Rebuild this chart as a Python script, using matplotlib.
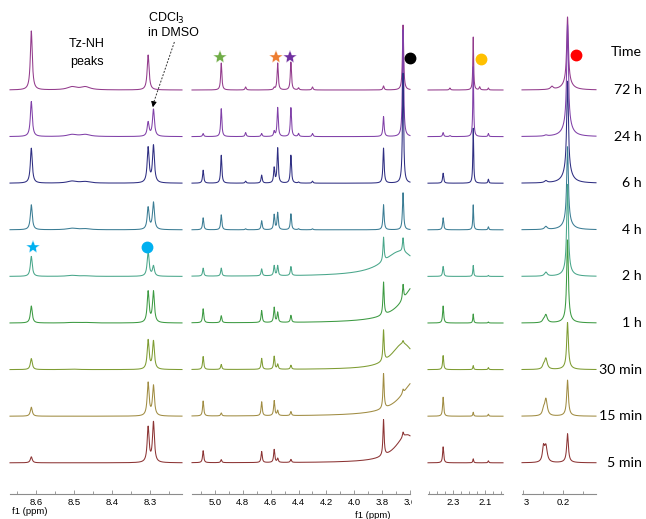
import numpy as np
import matplotlib
matplotlib.use('Agg')
import matplotlib.pyplot as plt
from matplotlib.transforms import Bbox, TransformedBbox

# traces, top to bottom
times = ['72 h', '24 h', '6 h', '4 h', '2 h', '1 h', '30 min', '15 min', '5 min']
line_colors = ['#933b8c', '#8040a8', '#2e2e82', '#3a7c94', '#48a68a',
               '#3c9a42', '#7e9c32', '#a08c42', '#8c3434']

# panel 1: Tz-NH region (ppm, half width, height of each peak per trace)
p1_ppm = [8.612, 8.305, 8.291, 8.505, 8.47]
p1_width = [0.003, 0.003, 0.003, 0.015, 0.015]
p1_height = [
    [59, 35, 0, 3, 3],
    [35, 14, 27, 2, 2],
    [35, 35, 37, 2, 1.5],
    [25, 22, 27, 1.5, 1],
    [20, 25, 10, 1, 0.5],
    [17, 31, 31, 0.5, 0.5],
    [11, 29, 28, 0.5, 0],
    [9, 33, 30, 0, 0],
    [6, 35, 40, 0, 0],
]

# panel 2: 5.1 - 3.6 ppm
p2_ppm = [5.085, 4.955, 4.78, 4.665, 4.575, 4.55, 4.455, 4.40, 4.30, 3.79, 3.65]
p2_width = [0.005] * 11
p2_height = [
    [0, 27, 3, 0, 2, 27, 28, 2, 3, 4, 65],
    [3, 28, 4, 3, 5, 29, 29, 3, 3, 20, 107],
    [13, 28, 2, 8, 15, 35, 28, 1, 2, 35, 110],
    [12, 15, 1, 9, 15, 17, 16, 1, 1, 25, 37],
    [8, 8, 0, 7, 10, 10, 9, 0, 0, 24, 14],
    [14, 7, 0, 12, 15, 10, 7, 0, 0, 33, 15],
    [13, 5, 0, 11, 13, 5, 4, 0, 0, 31, 3],
    [15, 3, 0, 14, 15, 5, 4, 0, 0, 35, 4],
    [12, 3, 0, 11, 13, 4, 3, 0, 0, 36, 5],
]
# broad water hump under panel 2
hump_ppm = [3.7, 3.7, 3.7, 3.7, 3.67, 3.55, 3.65, 3.56, 3.62]
hump_width = [0.15, 0.15, 0.15, 0.15, 0.15, 0.12, 0.10, 0.12, 0.10]
hump_height = [0, 0, 0, 0, 25, 40, 26, 36, 28]

# panel 3: 2.45 - 2.0 ppm
p3_ppm = [2.362, 2.175, 2.081, 2.32, 2.135]
p3_width = [0.004, 0.003, 0.003, 0.004, 0.004]
p3_height = [
    [0, 53, 2, 2, 3],
    [4, 70, 3, 1, 0],
    [10, 55, 4, 0, 0],
    [12, 25, 3, 0, 0],
    [10, 11, 1, 0, 0],
    [17, 9, 1, 0, 0],
    [14, 4, 2, 0, 0],
    [19, 4, 2, 0, 0],
    [16, 4, 2, 0, 0],
]

# panel 4: 0.3 - 0.12 ppm
p4_ppm = [0.243, 0.249, 0.189, 0.189, 0.228]
p4_width = [0.004, 0.003, 0.0025, 0.012, 0.004]
p4_height = [
    [0, 0, 65, 8, 3],
    [1, 0, 100, 12, 0],
    [2, 0, 90, 12, 0],
    [3, 0, 75, 8, 0],
    [4, 0, 87, 5, 0],
    [8, 2, 80, 3, 0],
    [11, 3, 45, 2, 0],
    [17, 5, 35, 1, 0],
    [16, 14, 28, 1, 0],
]


def spectrum(x, ppm, width, heights):
    y = np.zeros_like(x)
    for c, w, h in zip(ppm, width, heights):
        y += h / (1 + ((x - c) / w) ** 2)
    return y


W, H = 646, 519
fig = plt.figure(figsize=(W / 100, H / 100), dpi=100)
plt.rcParams['font.family'] = ['Liberation Sans', 'DejaVu Sans']

axis_y = 494


def make_ax(x0, x1, left_ppm, right_ppm):
    ax = fig.add_axes([x0 / W, (H - axis_y) / H, (x1 - x0) / W, axis_y / H])
    ax.set_xlim(left_ppm, right_ppm)
    ax.set_ylim(0, axis_y)
    for s in ['left', 'right', 'top']:
        ax.spines[s].set_visible(False)
    ax.spines['bottom'].set_color('#8c8c8c')
    ax.spines['bottom'].set_linewidth(0.8)
    ax.set_yticks([])
    ax.patch.set_alpha(0)
    ax.tick_params(axis='x', which='both', direction='in', colors='#8c8c8c',
                   labelcolor='black', labelsize=6.8, pad=3, width=0.6)
    ax.tick_params(axis='x', which='major', length=3)
    ax.tick_params(axis='x', which='minor', length=2)
    return ax


ax1 = make_ax(10, 182, 8.668, 8.216)
ax2 = make_ax(192, 410, 5.165, 3.60)
ax3 = make_ax(428, 503, 2.456, 1.99)
ax4 = make_ax(522, 596, 0.3025, 0.118)

ax1.set_xticks([8.6, 8.5, 8.4, 8.3])
ax1.set_xticks([8.65, 8.55, 8.45, 8.35, 8.25], minor=True)
ax2.set_xticks([5.0, 4.8, 4.6, 4.4, 4.2, 4.0, 3.8, 3.6])
ax2.set_xticks([5.1, 4.9, 4.7, 4.5, 4.3, 4.1, 3.9, 3.7], minor=True)
ax3.set_xticks([2.3, 2.1])
ax3.set_xticks([2.45, 2.4, 2.35, 2.25, 2.2, 2.15, 2.05, 2.0], minor=True)
ax4.set_xticks([0.3, 0.2])
ax4.set_xticks([0.25, 0.15], minor=True)
for ax in [ax1, ax2, ax3, ax4]:
    ax.set_xticklabels(['%.1f' % t for t in ax.get_xticks()])

# cut the edge labels like in the cropped original
clip2 = TransformedBbox(Bbox([[0, 0], [412 / W, 1]]), fig.transFigure)
for t in ax2.get_xticklabels():
    t.set_clip_box(clip2)
    t.set_clip_on(True)
clip4 = TransformedBbox(Bbox([[523.5 / W, 0], [1, 1]]), fig.transFigure)
for t in ax4.get_xticklabels():
    t.set_clip_box(clip4)
    t.set_clip_on(True)

panels = [
    (ax1, p1_ppm, p1_width, p1_height),
    (ax2, p2_ppm, p2_width, p2_height),
    (ax3, p3_ppm, p3_width, p3_height),
    (ax4, p4_ppm, p4_width, p4_height),
]

for i in range(len(times)):
    base = 404 - i * 46.6
    for ax, ppm, width, heights in panels:
        lo, hi = ax.get_xlim()
        x = np.linspace(lo, hi, 3000)
        y = spectrum(x, ppm, width, heights[i])
        if ax is ax2:
            y += hump_height[i] / (1 + ((x - hump_ppm[i]) / hump_width[i]) ** 2)
        ax.plot(x, base + y, color=line_colors[i], lw=0.75, clip_on=False, zorder=2 + i)
    fig.text(642 / W, 1 - (axis_y - base) / H, times[i], ha='right', va='center',
             fontsize=10.2, family=['Lato', 'DejaVu Sans'])

fig.text(642 / W, 1 - 52 / H, 'Time', ha='right', va='center', fontsize=10.2,
         family=['Lato', 'DejaVu Sans'])

# peak markers
mk_y = axis_y - 57
ax2.plot(4.962, mk_y, marker='*', ms=10, color='#70ad47', mec='white', mew=0.3, clip_on=False, zorder=20)
ax2.plot(4.56, mk_y, marker='*', ms=10, color='#ed7d31', mec='white', mew=0.3, clip_on=False, zorder=20)
ax2.plot(4.46, mk_y, marker='*', ms=10, color='#7030a0', mec='white', mew=0.3, clip_on=False, zorder=20)
ax2.plot(3.60, axis_y - 58, marker='o', ms=7.5, color='black', clip_on=False, zorder=20)
ax3.plot(2.125, axis_y - 59, marker='o', ms=7.5, color='#ffc000', clip_on=False, zorder=20)
ax4.plot(0.1675, axis_y - 55, marker='o', ms=7.5, color='#ff0000', clip_on=False, zorder=20)
ax1.plot(8.607, axis_y - 247, marker='*', ms=10, color='#00b0f0', mec='white', mew=0.3, clip_on=False, zorder=20)
ax1.plot(8.308, axis_y - 247, marker='o', ms=7.5, color='#00b0f0', clip_on=False, zorder=20)

# annotations
fig.text(87 / W, 1 - 53 / H, 'Tz-NH\npeaks', ha='center', va='center', fontsize=9,
         linespacing=1.6)
fig.text(148 / W, 1 - 25 / H, 'CDCl$_3$\nin DMSO', ha='left', va='center', fontsize=9,
         linespacing=1.15)
ax1.plot([8.236, 8.290], [axis_y - 42, axis_y - 102], color='#333333', lw=0.7,
         ls=(0, (2, 1.5)), clip_on=False, zorder=20)
ax1.annotate('', xy=(8.294, axis_y - 110), xytext=(8.290, axis_y - 102),
             arrowprops=dict(arrowstyle='-|>', color='black', lw=0.7, mutation_scale=8),
             annotation_clip=False, zorder=20)

fig.text(12 / W, 1 - 507 / H, 'f1 (ppm)', ha='left', va='top', fontsize=6.8)
fig.text(355 / W, 1 - 511 / H, 'f1 (ppm)', ha='left', va='top', fontsize=6.8)

fig.savefig('out.png', dpi=100)
